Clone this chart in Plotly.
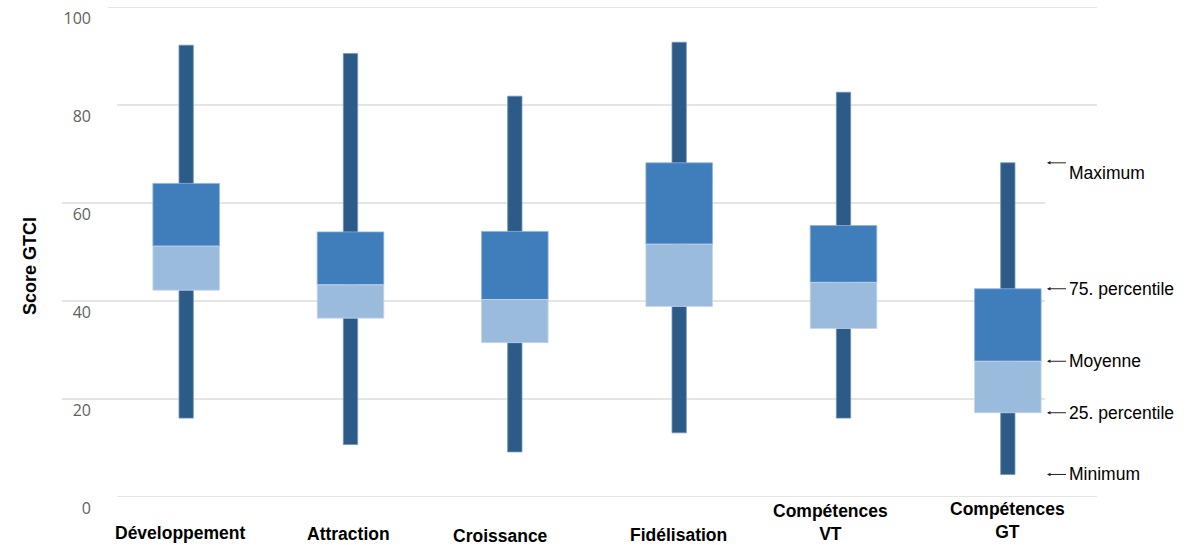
import plotly.graph_objects as go

categories = ["Développement", "Attraction", "Croissance", "Fidélisation", "Compétences<br>VT", "Compétences<br>GT"]
minimum = [16.1, 10.7, 9.2, 13.1, 16.1, 4.6]
p25 = [42.2, 36.5, 31.5, 38.9, 34.4, 17.2]
moyenne = [51.2, 43.3, 40.3, 51.6, 43.8, 27.7]
p75 = [64.0, 54.1, 54.2, 68.2, 55.4, 42.5]
maximum = [92.2, 90.5, 81.8, 92.8, 82.6, 68.2]
y_ticks = [0, 20, 40, 60, 80, 100]
legend_labels = ["Maximum", "75. percentile", "Moyenne", "25. percentile", "Minimum"]

# style
W, H = 1187, 545
L, R, T, B = 104, 97, 7, 48
PW = W - L - R
PH = H - T - B
C_WHISK = "#2d5b88"
C_UP = "#407dbb"
C_LOW = "#9bbbdd"
FONT = "Liberation Sans, Arial, sans-serif"

xs = list(range(len(categories)))

fig = go.Figure()
fig.add_trace(go.Bar(
    x=xs, base=minimum, y=[mx - mn for mx, mn in zip(maximum, minimum)],
    width=0.087, marker=dict(color=C_WHISK, line=dict(color="#6f93b8", width=0.8)),
    hoverinfo="skip", showlegend=False))
fig.add_trace(go.Bar(
    x=xs, base=moyenne, y=[a - b for a, b in zip(p75, moyenne)],
    width=0.405, marker=dict(color=C_UP, line=dict(color="#8fb2db", width=0.8)),
    hoverinfo="skip", showlegend=False))
fig.add_trace(go.Bar(
    x=xs, base=p25, y=[a - b for a, b in zip(moyenne, p25)],
    width=0.405, marker=dict(color=C_LOW, line=dict(color="#c3d6ec", width=0.8)),
    hoverinfo="skip", showlegend=False))

def px2paper_x(px):
    return (px - L) / PW

def px2paper_y(py):
    return (H - B - py) / PH

# grid lines (drawn as shapes to match partial extents)
grid_extent = {100: (108, 1097), 80: (117, 1097), 60: (62, 1045), 40: (62, 1045), 20: (62, 1045), 0: (117, 1097)}
for v in y_ticks:
    x0, x1 = grid_extent[v]
    fig.add_shape(type="line", xref="paper", yref="y", x0=px2paper_x(x0), x1=px2paper_x(x1),
                  y0=v, y1=v, line=dict(color="#dcdcdc", width=1.5), layer="below")

annotations = []
# category labels
label_shift = [(-6, -36), (-2, -37), (-14, -39), (-1, -38), (-13, -25), (0, -23)]
for i, c in enumerate(categories):
    dx, dy = label_shift[i]
    annotations.append(dict(x=i, y=0, xref="x", yref="paper", text="<b>%s</b>" % c, showarrow=False,
                            xanchor="center", yanchor="middle", xshift=dx, yshift=dy,
                            font=dict(family=FONT, size=17.5, color="#000")))

# y axis title
annotations.append(dict(x=px2paper_x(18), y=px2paper_y(266), xref="paper", yref="paper",
                        text="<b>Score GTCI</b>", textangle=-90, showarrow=False,
                        font=dict(family=FONT, size=18, color="#000")))

# key annotations pointing at last box
g = len(categories) - 1
key_vals = [maximum[g], p75[g], moyenne[g], p25[g], minimum[g]]
text_yshift = [-10, 0, 0, 0, 0]
for lab, v, ys in zip(legend_labels, key_vals, text_yshift):
    annotations.append(dict(x=px2paper_x(1047), y=v, xref="paper", yref="y", text=" ",
                            showarrow=True, ax=22, ay=0, arrowhead=2, arrowsize=0.7,
                            arrowwidth=1, arrowcolor="#222", standoff=0, startstandoff=0))
    annotations.append(dict(x=px2paper_x(1067), y=v, xref="paper", yref="y", text=lab,
                            showarrow=False, xanchor="left", yanchor="middle", yshift=ys,
                            font=dict(family=FONT, size=17.5, color="#000")))

fig.update_layout(
    width=W, height=H,
    margin=dict(l=L, r=R, t=T, b=B, pad=0, autoexpand=False),
    barmode="overlay",
    plot_bgcolor="white", paper_bgcolor="white",
    annotations=annotations,
    xaxis=dict(range=[-0.5, len(categories) - 0.5], showgrid=False, zeroline=False,
               showticklabels=False, showline=False, ticks="", automargin=False),
    yaxis=dict(range=[0, 100], tickvals=y_ticks, showgrid=False, zeroline=False, showline=False,
               ticks="", ticklabelshift=11, ticklabelstandoff=12, ticklabeloverflow="allow",
               automargin=False,
               tickfont=dict(family="Open Sans, sans-serif", size=16, color="#5f5f5f")),
)

fig.write_html("out.html", config={"displayModeBar": False},
               post_script="document.body.style.margin='0';document.body.style.overflow='hidden';")
